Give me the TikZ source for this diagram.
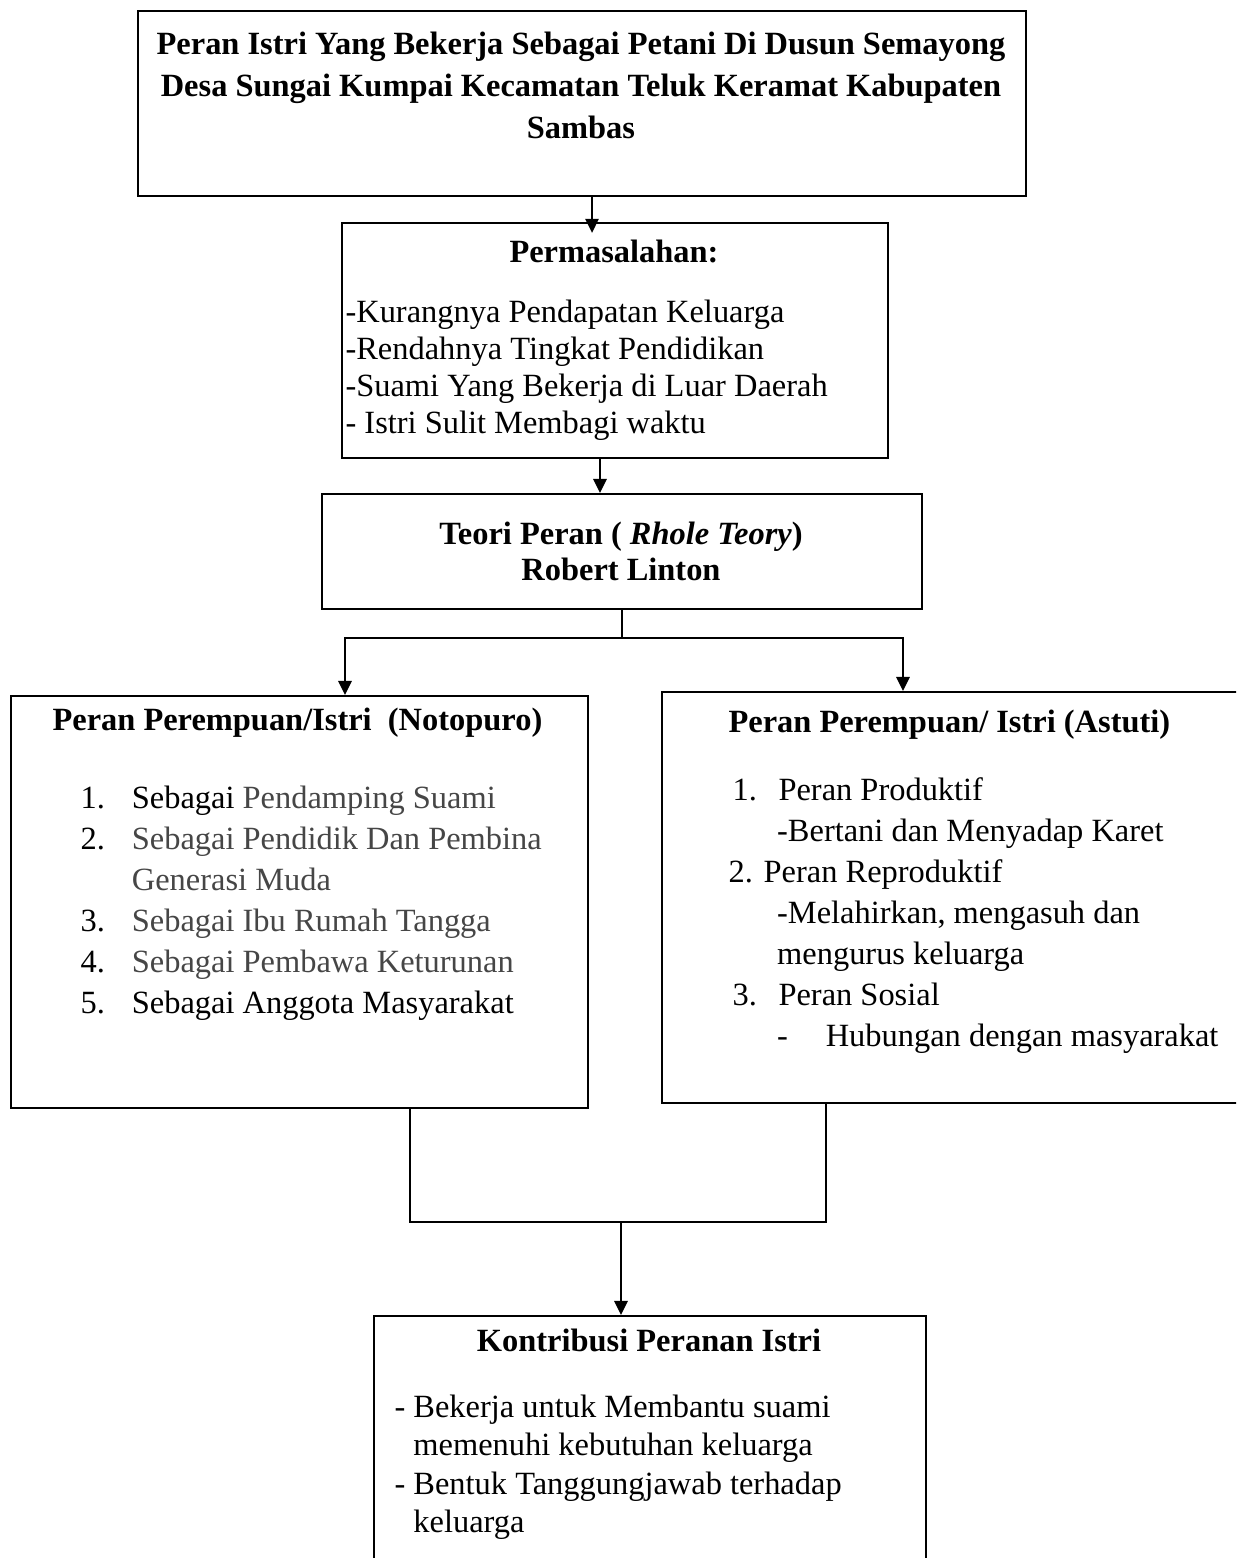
\documentclass[tikz,border=0pt]{standalone}
\usepackage{fontspec}
\setmainfont{Liberation Serif}
\usetikzlibrary{arrows.meta}
\definecolor{itemgray}{RGB}{70,70,70}
\newcommand{\pxu}{0.37pt}
\begin{document}
\begin{tikzpicture}[x=0.37pt, y=-0.37pt,
    box/.style={draw, line width=0.6pt, anchor=north west, inner sep=0pt},
    head/.style={font=\fontsize{12}{13}\selectfont\bfseries, anchor=base, inner sep=0pt},
    list/.style={font=\fontsize{12}{#1}\selectfont, anchor=base west, inner sep=0pt},
    conn/.style={line width=0.6pt, -{Triangle[length=5.2pt,width=5pt]}},
    link/.style={line width=0.6pt}]
  \clip (0,0) rectangle (1236,1558);
  % boxes
  \node[box, minimum width=888*\pxu, minimum height=185*\pxu] (top) at (137,10) {};
  \node[box, minimum width=546*\pxu, minimum height=235*\pxu] (prob) at (341,222) {};
  \node[box, minimum width=600*\pxu, minimum height=115*\pxu] (teori) at (321,493) {};
  \node[box, minimum width=577*\pxu, minimum height=412*\pxu] (left) at (10,695) {};
  \node[box, minimum width=590*\pxu, minimum height=411*\pxu] (right) at (661,691) {};
  \node[box, minimum width=552*\pxu, minimum height=260*\pxu] (bottom) at (373,1315) {};
  % texts
  \node[head, font=\fontsize{12}{15.6}\selectfont\bfseries] (toptxt) at (581,54)
    {\begin{tabular}[t]{@{}c@{}}Peran Istri Yang Bekerja Sebagai Petani Di Dusun Semayong\\
     Desa Sungai Kumpai Kecamatan Teluk Keramat Kabupaten\\ Sambas\end{tabular}};
  \node[head] (probhead) at (614,262) {Permasalahan:};
  \node[list=13.8] (probtxt) at (345,322)
    {\begin{tabular}[t]{@{}l@{}}-Kurangnya Pendapatan Keluarga\\ -Rendahnya Tingkat Pendidikan\\
     -Suami Yang Bekerja di Luar Daerah\\ - Istri Sulit Membagi waktu\end{tabular}};
  \node[head, font=\fontsize{12}{13.5}\selectfont] (teoritxt) at (621,544)
    {\begin{tabular}[t]{@{}c@{}}\textbf{Teori Peran (} \textbf{\textit{Rhole Teory}}\textbf{)}\\
     \textbf{Robert Linton}\end{tabular}};
  \node[head, anchor=base west] (lefthead) at (52,730) {Peran Perempuan/Istri \ (Notopuro)};
  \node[list=15.2] (lefttxt) at (80,808)
    {\begin{tabular}[t]{@{}l@{\hspace{10pt}}l@{}}1. & Sebagai \textcolor{itemgray}{Pendamping Suami}\\
     2. & \textcolor{itemgray}{Sebagai Pendidik Dan Pembina}\\
        & \textcolor{itemgray}{Generasi Muda}\\
     3. & \textcolor{itemgray}{Sebagai Ibu Rumah Tangga}\\
     4. & \textcolor{itemgray}{Sebagai Pembawa Keturunan}\\
     5. & Sebagai Anggota Masyarakat\end{tabular}};
  \node[head, anchor=base west] (righthead) at (728,732) {Peran Perempuan/ Istri (Astuti)};
  \node[list=15.2] (righttxt) at (728,800)
    {\begin{tabular}[t]{@{}l@{}}\hspace{1.5pt}1.\hspace{8pt}Peran Produktif\\
     \hspace{18pt}-Bertani dan Menyadap Karet\\
     2. Peran Reproduktif\\
     \hspace{18pt}-Melahirkan, mengasuh dan\\
     \hspace{18pt}mengurus keluarga\\
     \hspace{1.5pt}3.\hspace{8pt}Peran Sosial\\
     \hspace{18pt}-\hspace{14pt}Hubungan dengan masyarakat\end{tabular}};
  \node[head] (bottomhead) at (649,1351) {Kontribusi Peranan Istri};
  \node[list=14.3] (bottomtxt) at (394,1417)
    {\begin{tabular}[t]{@{}l@{}}- Bekerja untuk Membantu suami\\
     \hspace{7pt}memenuhi kebutuhan keluarga\\
     - Bentuk Tanggungjawab terhadap\\
     \hspace{7pt}keluarga\end{tabular}};
  % connectors
  \coordinate (x1) at (592,0);
  \coordinate (x2) at (600,0);
  \coordinate (split) at (622,638);
  \coordinate (xl) at (345,0);
  \coordinate (xr) at (903,0);
  \coordinate (xa) at (410,0);
  \coordinate (xb) at (826,0);
  \coordinate (merge) at (621,1222);
  \draw[conn, shorten >=-4pt] (top.south -| x1) -- (prob.north -| x1);
  \draw[conn] (prob.south -| x2) -- (teori.north -| x2);
  \draw[link] (teori.south -| split) -- (split);
  \draw[conn] (split) -| (left.north -| xl);
  \draw[conn] (split) -| (right.north -| xr);
  \draw[link] (left.south -| xa) -- (xa |- merge) -- (xb |- merge) -- (right.south -| xb);
  \draw[conn] (merge) -- (bottom.north -| merge);
\end{tikzpicture}
\end{document}
